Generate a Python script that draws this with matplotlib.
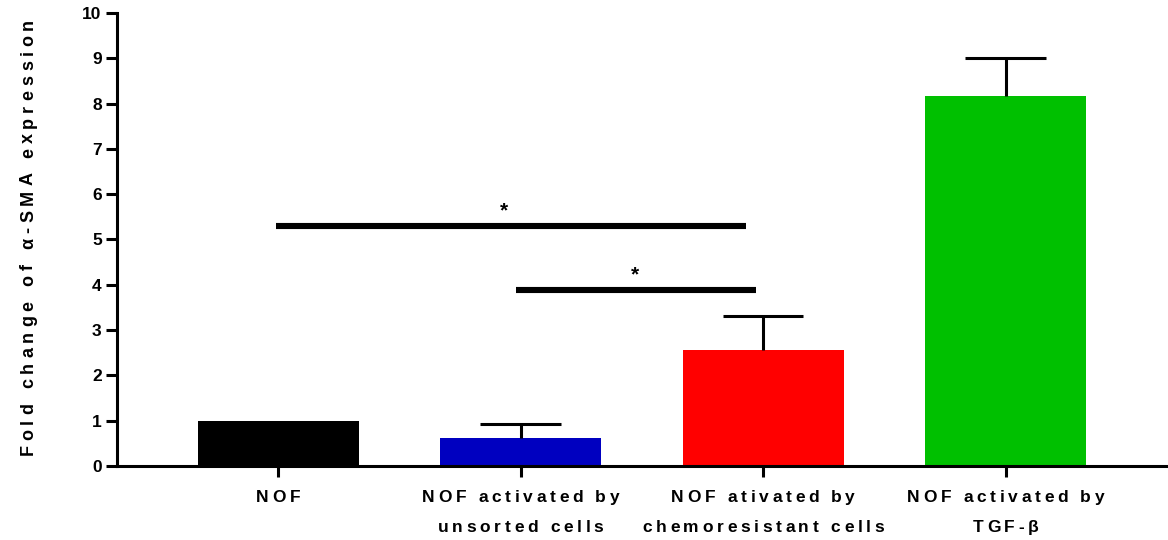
import numpy as np
import matplotlib.pyplot as plt
from matplotlib.font_manager import FontProperties
from matplotlib.textpath import TextToPath
from matplotlib.transforms import ScaledTranslation, blended_transform_factory

plt.rcParams['font.family'] = ['Liberation Sans', 'DejaVu Sans']

categories = ["NOF", "NOF activated by\nunsorted cells",
              "NOF ativated by\nchemoresistant cells", "NOF activated by\nTGF-β"]
means = [1.0, 0.62, 2.55, 8.17]
errors = [0.0, 0.31, 0.76, 0.84]
colors = ["#000000", "#0000c0", "#ff0000", "#00c000"]
ylabel = "Fold change of α-SMA expression"

# significance brackets: (x from, x to, height, star x)
sig_lines = [(-0.01, 1.93, 5.3, 0.93), (0.98, 1.97, 3.89, 1.47)]

ttp = TextToPath()


def spaced_text(fig, x, y, s, transform, size=12, spacing=3.0, rotation=0):
    # letter-spaced bold text, centred on (x, y) along its direction
    prop = FontProperties(family='Liberation Sans', weight='bold', size=size)
    widths = []
    for c in s:
        if c == ' ':
            widths.append(0.278 * size)
        else:
            widths.append(ttp.get_text_width_height_descent(c, prop, ismath=False)[0])
    total = sum(widths) + spacing * (len(s) - 1)
    pos = -total / 2
    for c, w in zip(s, widths):
        if rotation == 0:
            off = ScaledTranslation(pos / 72, 0, fig.dpi_scale_trans)
        else:
            off = ScaledTranslation(0, pos / 72, fig.dpi_scale_trans)
        fig.text(x, y, c, transform=transform + off, fontproperties=prop,
                 rotation=rotation, ha='left', va='baseline', rotation_mode='anchor')
        pos += w + spacing


fig = plt.figure(figsize=(11.68, 5.4), dpi=100)
ax = fig.add_axes([117/1168, 1 - 466/540, 1 - 117/1168, (466 - 13)/540])

x = np.arange(len(categories))
bw = 0.665
ax.bar(x, means, width=bw, color=colors, zorder=2)

# one-sided error bars (upper only)
tops = np.array(means) + np.array(errors)
ax.vlines(x[1:], means[1:], tops[1:], color='black', linewidth=2.2, zorder=3)
ax.hlines(tops[1:], x[1:] - bw / 4, x[1:] + bw / 4, color='black', linewidth=2.2, zorder=3)

for x0, x1, h, xs in sig_lines:
    ax.plot([x0, x1], [h, h], color='black', linewidth=4.4, solid_capstyle='butt')
    ax.text(xs, h + 0.12, "*", ha='center', va='bottom', fontsize=15, fontweight='bold')

ax.set_xlim(-0.665, 3.67)
ax.set_ylim(0, 10)
ax.set_yticks(range(0, 11))
ax.set_xticks(x)
ax.set_xticklabels([])
ax.tick_params(axis='y', labelsize=12.5, width=2.2, length=8, pad=3)
ax.tick_params(axis='x', width=2.2, length=8)
for lbl in ax.get_yticklabels():
    lbl.set_fontweight('bold')

for side in ['top', 'right']:
    ax.spines[side].set_visible(False)
for side in ['left', 'bottom']:
    ax.spines[side].set_linewidth(2.2)

# category labels, two lines under each bar
trans = blended_transform_factory(ax.transData, fig.transFigure)
line_y = [1 - 502/540, 1 - 532/540]
for xi, cat in zip(x, categories):
    for li, line in enumerate(cat.split("\n")):
        spaced_text(fig, xi, line_y[li], line, trans, size=12.5, spacing=2.65)

spaced_text(fig, 33/1168, 1 - 237/540, ylabel, fig.transFigure,
            size=13, spacing=3.5, rotation=90)

fig.savefig("out.png", dpi=100)
